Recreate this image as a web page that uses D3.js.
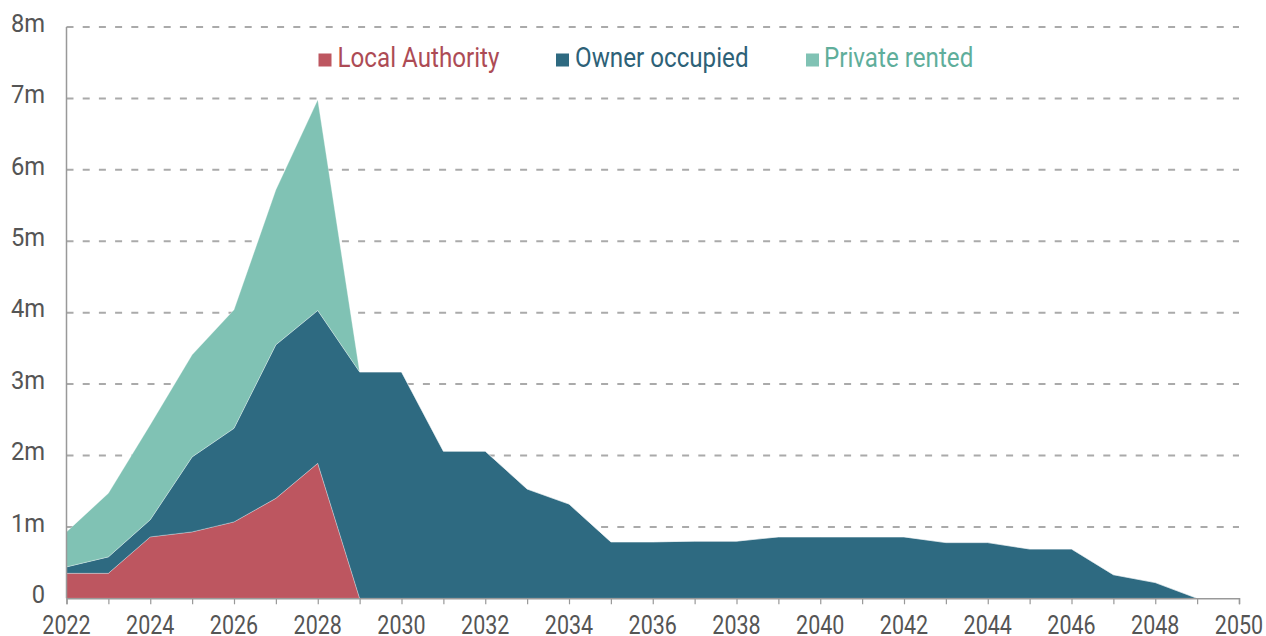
<!DOCTYPE html>
<html>
<head>
<meta charset="utf-8">
<script src="https://cdn.jsdelivr.net/npm/d3@7"></script>
<style>
  html, body { margin: 0; padding: 0; background: #fff; }
  svg { display: block; font-family: Roboto, "Noto Sans", sans-serif; }
</style>
</head>
<body>
<svg id="chart" width="1266" height="636"></svg>
<script>
// ---- data (millions of homes) ----
const years = [2022,2023,2024,2025,2026,2027,2028,2029,2030,2031,2032,2033,2034,2035,
               2036,2037,2038,2039,2040,2041,2042,2043,2044,2045,2046,2047,2048,2049];
const localAuthority = [0.35,0.35,0.86,0.93,1.07,1.40,1.89,0,0,0,0,0,0,0,
                        0,0,0,0,0,0,0,0,0,0,0,0,0,0];
const ownerOccupied  = [0.09,0.23,0.24,1.05,1.31,2.15,2.14,3.17,3.17,2.06,2.06,1.53,1.32,0.79,
                        0.79,0.80,0.80,0.86,0.86,0.86,0.86,0.78,0.78,0.69,0.69,0.33,0.22,0];
const privateRented  = [0.49,0.89,1.33,1.43,1.66,2.17,2.95,0,0,0,0,0,0,0,
                        0,0,0,0,0,0,0,0,0,0,0,0,0,0];
const seriesNames = ["Local Authority","Owner occupied","Private rented"];
const seriesColors = ["#bd5660","#2e6a81","#80c2b4"];
const legendTextColors = ["#ad4b55","#2d6177","#5fae9b"];
const yTicks = [0,1,2,3,4,5,6,7,8];
const yTickLabels = ["0","1m","2m","3m","4m","5m","6m","7m","8m"];
const xTicks = d3.range(2022, 2051);
const xLabelYears = d3.range(2022, 2051, 2);

// ---- layout ----
const svg = d3.select("#chart");
const plotLeft = 66.5, plotRight = 1239, plotTop = 27, plotBottom = 598.3;

const x = d3.scaleLinear().domain([2022, 2050]).range([plotLeft, plotRight]);
const y = d3.scaleLinear().domain([0, 8]).range([plotBottom, plotTop]);

const rows = years.map((yr, i) => ({
  year: yr,
  "Local Authority": localAuthority[i],
  "Owner occupied": ownerOccupied[i],
  "Private rented": privateRented[i]
}));
const stacked = d3.stack().keys(seriesNames)(rows);

// gridlines
svg.append("g")
  .selectAll("line")
  .data(yTicks.filter(d => d > 0))
  .join("line")
  .attr("x1", plotLeft).attr("x2", plotRight)
  .attr("y1", d => y(d)).attr("y2", d => y(d))
  .attr("stroke", "#aaaaaa")
  .attr("stroke-width", 2)
  .attr("stroke-dasharray", "7,9.2");

// areas
const area = d3.area()
  .x(d => x(d.data.year))
  .y0(d => y(d[0]))
  .y1(d => y(d[1]));

svg.append("g")
  .selectAll("path")
  .data(stacked)
  .join("path")
  .attr("d", area)
  .attr("fill", (d, i) => seriesColors[i])
  .attr("stroke", "#ffffff")
  .attr("stroke-width", 0.6)
  .attr("stroke-opacity", 0.5);

// y axis line
svg.append("line")
  .attr("x1", plotLeft).attr("x2", plotLeft)
  .attr("y1", y(8)).attr("y2", y(0))
  .attr("stroke", "#999").attr("stroke-width", 1.5);

// x axis
const xAxis = d3.axisBottom(x)
  .tickValues(xTicks)
  .tickSize(6)
  .tickFormat("");
const gx = svg.append("g")
  .attr("transform", `translate(0,${plotBottom})`)
  .call(xAxis);
gx.select(".domain").attr("stroke", "#999").attr("stroke-width", 1.5);
gx.selectAll(".tick line").attr("stroke", "#999").attr("stroke-width", 1.2);

// x labels (condensed look via horizontal scale)
svg.append("g")
  .selectAll("g")
  .data(xLabelYears)
  .join("g")
  .attr("transform", d => `translate(${x(d)},634.3) scale(0.86,1)`)
  .append("text")
  .attr("text-anchor", "middle")
  .attr("fill", "#555")
  .attr("font-size", 25)
  .text(d => String(d));

// y labels
svg.append("g")
  .selectAll("g")
  .data(yTicks)
  .join("g")
  .attr("transform", d => `translate(45,${y(d) + 4.8}) scale(0.93,1)`)
  .append("text")
  .attr("text-anchor", "end")
  .attr("fill", "#555")
  .attr("font-size", 25.5)
  .text((d, i) => yTickLabels[i]);

// legend
const legendX = [318.5, 556, 806];
const legendTextX = [337.5, 575, 824];
const lg = svg.append("g");
seriesNames.forEach((name, i) => {
  lg.append("rect")
    .attr("x", legendX[i]).attr("y", 53.5)
    .attr("width", 13).attr("height", 13)
    .attr("fill", seriesColors[i]);
  lg.append("g")
    .attr("transform", `translate(${legendTextX[i]},66.7) scale(0.896,1)`)
    .append("text")
    .attr("fill", legendTextColors[i])
    .attr("font-size", 27)
    .text(name);
});
</script>
</body>
</html>
